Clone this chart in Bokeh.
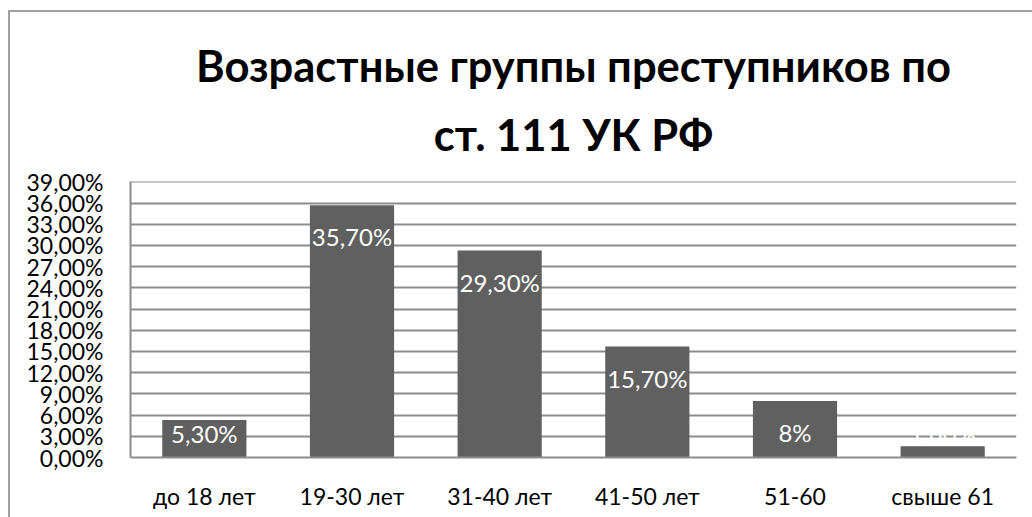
from bokeh.plotting import figure
from bokeh.models import ColumnDataSource, FactorRange, Range1d, FixedTicker, Title, InlineStyleSheet
from bokeh.core.properties import value
from bokeh.embed import file_html
from bokeh.resources import INLINE
import numpy as np

categories = ["до 18 лет", "19-30 лет", "31-40 лет", "41-50 лет", "51-60", "свыше 61"]
values = [5.3, 35.7, 29.3, 15.7, 8.0, 1.6]
bar_labels = ["5,30%", "35,70%", "29,30%", "15,70%", "8%", "1,60%"]
y_ticks = list(range(0, 40, 3))
y_tick_labels = {t: f"{t},00%" for t in y_ticks}
title_line1 = "Возрастные группы преступников по"
title_line2 = "ст. 111 УК РФ"

FONT = "Lato"
GRAY = "#8c8c8c"

label_y = list(np.maximum(np.array(values) - 4.5, 3.4))
src = ColumnDataSource(dict(cat=categories, val=values, lab=bar_labels, ly=label_y))

p = figure(width=1032, height=517, x_range=FactorRange(*categories, range_padding=0),
           y_range=Range1d(0, 39.05), output_backend="svg", toolbar_location=None,
           min_border_left=130, min_border_right=16, min_border_top=181, min_border_bottom=60)

p.vbar(x="cat", top="val", width=0.57, source=src, fill_color="#606060", line_color=None)
p.text(x="cat", y="ly", text="lab", source=src, text_color="white",
       text_font=value(FONT), text_font_size="24px", text_align="center", text_baseline="middle")

p.add_layout(Title(text=title_line2, text_font=FONT, text_font_size="43.5px", text_font_style="bold",
                   align="center", text_color="black", standoff=43, text_line_height=1.0), "above")
p.add_layout(Title(text=title_line1, text_font=FONT, text_font_size="43.5px", text_font_style="bold",
                   align="center", text_color="black", standoff=-13, text_line_height=1.0), "above")

p.outline_line_color = None
p.xgrid.grid_line_color = None
p.ygrid.ticker = FixedTicker(ticks=y_ticks)
p.ygrid.grid_line_color = GRAY
p.ygrid.grid_line_width = 2

p.yaxis.ticker = FixedTicker(ticks=y_ticks)
p.yaxis.major_label_overrides = y_tick_labels
p.yaxis.major_tick_line_color = None
p.yaxis.minor_tick_line_color = None
p.yaxis.axis_line_color = GRAY
p.yaxis.axis_line_width = 2
p.yaxis.major_label_standoff = 21
p.yaxis.major_label_text_font = FONT
p.yaxis.major_label_text_font_size = "23px"
p.yaxis.major_label_text_color = "black"

p.xaxis.major_tick_line_color = None
p.xaxis.minor_tick_line_color = None
p.xaxis.axis_line_color = GRAY
p.xaxis.axis_line_width = 2
p.xaxis.major_label_standoff = 18
p.xaxis.major_label_text_font = FONT
p.xaxis.major_label_text_font_size = "23px"
p.xaxis.major_label_text_color = "black"

p.stylesheets = [InlineStyleSheet(css="""
:host::after { content: ''; position: absolute; left: 8px; top: 10px; right: 0; bottom: 0;
  border-left: 2px solid #a0a0a0; border-top: 2px solid #a0a0a0; pointer-events: none; z-index: 10; }
""")]

open("out.html", "w").write(file_html(p, INLINE))
